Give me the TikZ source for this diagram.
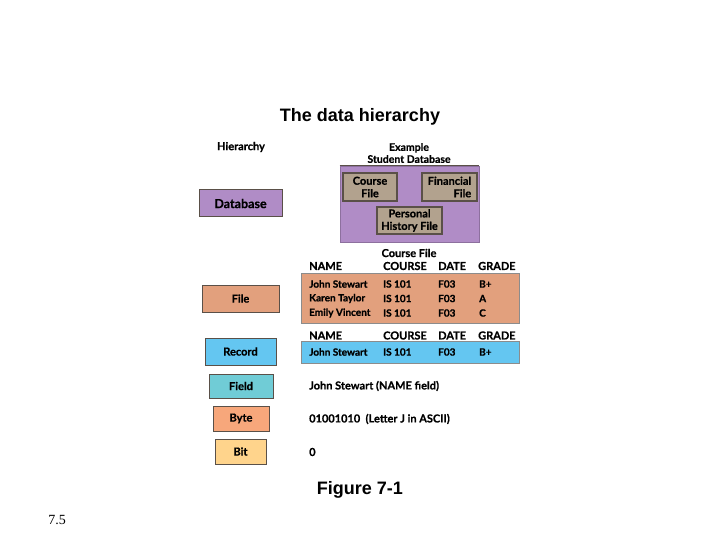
\documentclass[tikz,border=0pt]{standalone}
\usepackage{fontspec}
\setmainfont{Liberation Sans}
\newfontfamily\gillfont{Lato}[BoldFeatures={FakeBold=0.6}]
\newfontfamily\seriffont{Liberation Serif}
\usetikzlibrary{positioning}
\definecolor{dhpurple}{HTML}{B08CC6}
\definecolor{dhgray}{HTML}{B2A28E}
\definecolor{dhorange}{HTML}{E2A07D}
\definecolor{dhblue}{HTML}{64C6F1}
\definecolor{dhteal}{HTML}{70CCD6}
\definecolor{dhpeach}{HTML}{F7A77B}
\definecolor{dhyellow}{HTML}{FFD48C}
\definecolor{dhedge}{HTML}{5A5048}

\tikzset{
  levelbox/.style={draw=dhedge, line width=1pt, inner sep=0pt, font=\gillfont\bfseries\fontsize{11}{12}\selectfont},
  filebox/.style={draw=dhedge, line width=1.3pt, fill=dhgray, inner sep=0pt, align=center, font=\gillfont\bfseries\fontsize{11}{12.5}\selectfont},
  tablebox/.style={draw=black!45, line width=0.8pt, inner sep=0pt},
  lbl/.style={inner sep=0pt, font=\gillfont\bfseries\fontsize{11}{12.5}\selectfont},
  cell/.style={lbl, anchor=west},
  rowcell/.style={cell, font=\gillfont\bfseries\fontsize{10}{11}\selectfont}
}

\begin{document}
\begin{tikzpicture}[x=1pt, y=-1pt]
  \useasboundingbox (0,0) rectangle (720,540);

  % Title
  \node[font=\bfseries\fontsize{18}{20}\selectfont] (title) at (360,117) {The data hierarchy};

  % Column headings
  \node[lbl] (hierhead) at (241,147) {Hierarchy};
  \node[lbl, align=center, font=\gillfont\bfseries\fontsize{10.5}{12}\selectfont] (examplehead) at (409,153) {Example\\Student Database};

  % Hierarchy levels
  \node[levelbox, fill=dhpurple, minimum width=83, minimum height=27, font=\gillfont\bfseries\fontsize{12.5}{14}\selectfont] (database) at (240.5,203.5) {Database};
  \node[levelbox, fill=dhorange, minimum width=77, minimum height=27] (file) at (240.5,298.5) {File};
  \node[levelbox, fill=dhblue, minimum width=71, minimum height=27] (record) at (240.5,351.5) {Record};
  \node[levelbox, fill=dhteal, minimum width=64, minimum height=24] (field) at (241,386) {Field};
  \node[levelbox, fill=dhpeach, minimum width=56, minimum height=25] (byte) at (241,418.5) {Byte};
  \node[levelbox, fill=dhyellow, minimum width=51, minimum height=25] (bit) at (240.5,451.5) {Bit};

  % Student database
  \node[fill=dhpurple, draw=dhpurple!80!black, line width=0.6pt, minimum width=139, minimum height=76, inner sep=0pt] (studentdb) at (409.5,204) {};
  \draw[line width=1.2pt, dhedge] (studentdb.north west) -- (studentdb.north east);
  \node[filebox, minimum width=54, minimum height=28] (coursefile) at (370,187) {Course\\File};
  \node[filebox, minimum width=55, minimum height=28, align=right] (finfile) at (449.5,187) {Financial\\File};
  \node[filebox, minimum width=65, minimum height=27] (persfile) at (409.5,220.5) {Personal\\History File};

  % Course file table
  \node[lbl] (coursehead) at (409,253) {Course File};
  \node[tablebox, fill=dhorange, minimum width=218, minimum height=50] (filetab) at (410,298) {};
  \node[cell] (fname) at (309,266) {NAME};
  \node[cell] (fcourse) at (383,266) {COURSE};
  \node[cell] (fdate) at (438,266) {DATE};
  \node[cell] (fgrade) at (478,266) {GRADE};

  \node[rowcell] (rowaname) at (309,284) {John Stewart};
  \node[rowcell] (rowacourse) at (383,284) {IS 101};
  \node[rowcell] (rowadate) at (438,284) {F03};
  \node[rowcell] (rowagrade) at (479,284) {B+};
  \node[rowcell] (rowbname) at (309,298.5) {Karen Taylor};
  \node[rowcell] (rowbcourse) at (383,298.5) {IS 101};
  \node[rowcell] (rowbdate) at (438,298.5) {F03};
  \node[rowcell] (rowbgrade) at (479,298.5) {A};
  \node[rowcell] (rowcname) at (309,313) {Emily Vincent};
  \node[rowcell] (rowccourse) at (383,313) {IS 101};
  \node[rowcell] (rowcdate) at (438,313) {F03};
  \node[rowcell] (rowcgrade) at (479,313) {C};

  % Record
  \node[tablebox, fill=dhblue, minimum width=218, minimum height=22] (rectab) at (410,352) {};
  \node[cell] (rname) at (309,335.5) {NAME};
  \node[cell] (rcourse) at (383,335.5) {COURSE};
  \node[cell] (rdate) at (438,335.5) {DATE};
  \node[cell] (rgrade) at (478,335.5) {GRADE};
  \node[rowcell] (recname) at (309,352) {John Stewart};
  \node[rowcell] (reccourse) at (383,352) {IS 101};
  \node[rowcell] (recdate) at (438,352) {F03};
  \node[rowcell] (recgrade) at (479,352) {B+};

  % Field, byte, bit examples
  \node[cell] (fieldex) at (309,386) {John Stewart (NAME field)};
  \node[cell] (byteex) at (309,419) {01001010\ \ (Letter J in ASCII)};
  \node[cell] (bitex) at (309,452) {0};

  % Caption and page number
  \node[font=\bfseries\fontsize{18}{20}\selectfont] (caption) at (360,490) {Figure 7-1};
  \node[font=\seriffont\fontsize{14}{16}\selectfont] (pagenum) at (57,520) {7.5};
\end{tikzpicture}
\end{document}
